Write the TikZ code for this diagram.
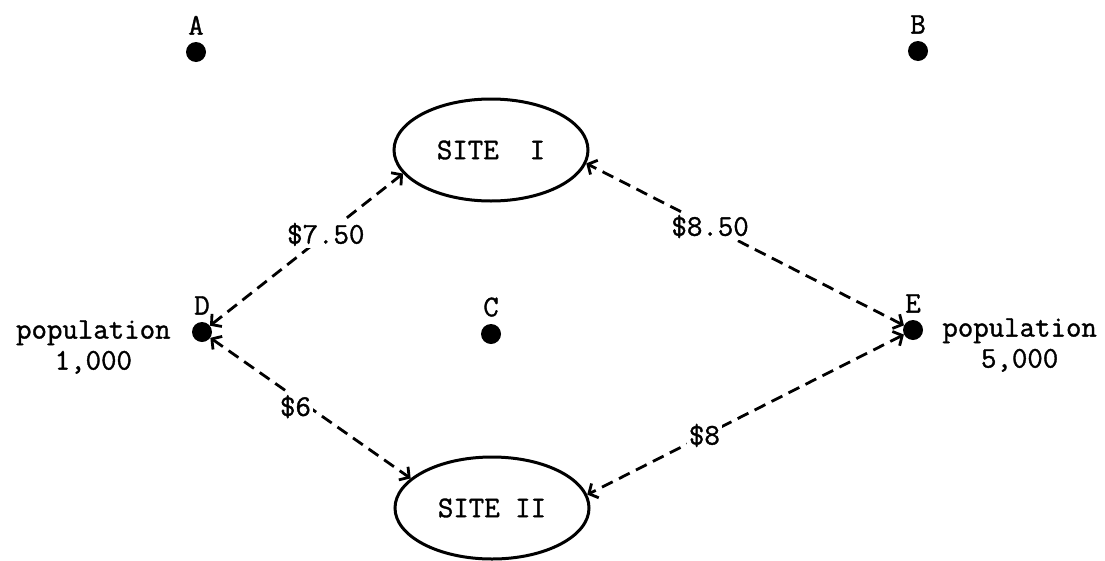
\documentclass[tikz,border=0pt]{standalone}
\usepackage{fontspec}
\usepackage{tikz}
\usetikzlibrary{positioning, arrows.meta, shapes.geometric}
\newfontfamily\typer{Latin Modern Mono}[FakeBold=1.2]

\begin{document}
\begin{tikzpicture}[x=1pt, y=-1pt,
    town/.style={circle, fill=black, inner sep=0pt, minimum size=20pt},
    tlabel/.style={font=\typer\fontsize{30}{31}\selectfont, inner sep=1pt},
    site/.style={ellipse, draw, line width=3pt, minimum width=194pt, minimum height=102pt, inner sep=0pt, font=\typer\fontsize{30}{31}\selectfont},
    cost/.style={line width=2.8pt, dash pattern=on 12pt off 7pt, >={Straight Barb[length=7pt,width=16pt]}, <->},
    price/.style={tlabel, fill=white, inner sep=2pt}]
    \useasboundingbox (0,0) rectangle (1105,560);

    % Towns
    \node[town] (dA) at (196,52) {};
    \node[town] (dB) at (918,51) {};
    \node[town] (dC) at (491,334) {};
    \node[town] (dD) at (202,332) {};
    \node[town] (dE) at (913,330) {};

    % Town letters
    \node[tlabel, above=6pt of dA] (lA) {A};
    \node[tlabel, above=6pt of dB] (lB) {B};
    \node[tlabel, above=6pt of dC] (lC) {C};
    \node[tlabel, above=6pt of dD] (lD) {D};
    \node[tlabel, above=6pt of dE] (lE) {E};

    % Populations
    \node[tlabel, align=center, left=20pt of dD, yshift=-15pt] (popD) {population\\1,000};
    \node[tlabel, align=center, right=18pt of dE, yshift=-15pt] (popE) {population\\5,000};

    % Sites
    \node[site] (site1) at (491,150) {SITE\ \ I};
    \node[site] (site2) at (492,508) {SITE II};

    % Travel costs
    \draw[cost] (dD) -- node[price, pos=0.6] {\$7.50} (site1.195);
    \draw[cost] (dE) -- node[price, pos=0.61] {\$8.50} (site1.352);
    \draw[cost] (dD) -- node[price, pos=0.44, xshift=-3pt, yshift=-7pt] {\$6} (site2.160);
    \draw[cost] (dE) -- node[price, pos=0.63] {\$8} (site2.8);
\end{tikzpicture}
\end{document}
